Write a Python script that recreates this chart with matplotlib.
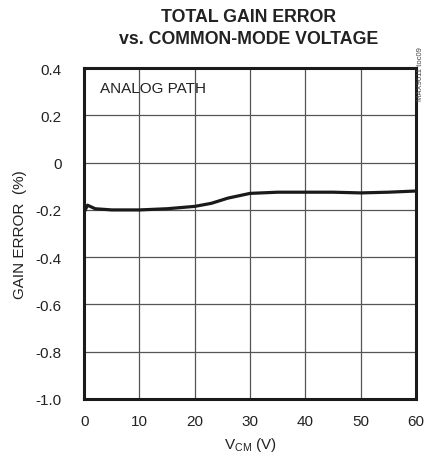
import matplotlib
matplotlib.use("Agg")
import matplotlib.pyplot as plt

plt.rcParams["font.family"] = ["Liberation Sans", "DejaVu Sans"]

vcm = [0, 0.6, 2, 5, 10, 15, 20, 23, 26, 30, 35, 40, 45, 50, 55, 60]
gain_err = [-0.21, -0.18, -0.195, -0.2, -0.2, -0.195, -0.185, -0.172, -0.15, -0.13,
            -0.125, -0.125, -0.125, -0.128, -0.125, -0.12]
xticks = [0, 10, 20, 30, 40, 50, 60]
yticks = [0.4, 0.2, 0, -0.2, -0.4, -0.6, -0.8, -1.0]
ylabels = ["0.4", "0.2", "0", "-0.2", "-0.4", "-0.6", "-0.8", "-1.0"]

fig = plt.figure(figsize=(4.25, 4.64), dpi=100)
ax = fig.add_axes([0.198, 0.138, 0.781, 0.713])
ax.plot(vcm, gain_err, color="#1a1a1a", lw=2.3)
ax.set_xlim(0, 60)
ax.set_ylim(-1.0, 0.4)
ax.set_xticks(xticks)
ax.set_yticks(yticks)
ax.set_yticklabels(ylabels)
ax.tick_params(length=0, labelsize=11, colors="#222222")
ax.tick_params(axis="y", pad=16)
ax.tick_params(axis="x", pad=11)
ax.grid(True, color="#555555", lw=0.9)
for s in ax.spines.values():
    s.set_linewidth(2.2)
    s.set_color("#1a1a1a")
ax.set_xlabel("V$_{\\mathregular{CM}}$ (V)", fontsize=11, color="#222222", labelpad=5)
ax.set_ylabel("GAIN ERROR  (%)", fontsize=11, color="#222222", labelpad=6)
ax.text(0.048, 0.94, "ANALOG PATH", transform=ax.transAxes, fontsize=11,
        color="#222222", va="center")
fig.text(0.585, 0.963, "TOTAL GAIN ERROR", ha="center", va="center",
         fontsize=12.8, fontweight="bold", color="#222222")
fig.text(0.585, 0.914, "vs. COMMON-MODE VOLTAGE", ha="center", va="center",
         fontsize=12.8, fontweight="bold", color="#222222")
fig.text(0.99, 0.84, "MAX9611 toc09", rotation=90, ha="center", va="center",
         fontsize=5.5, color="#444444")
fig.savefig("out.png", dpi=100)
